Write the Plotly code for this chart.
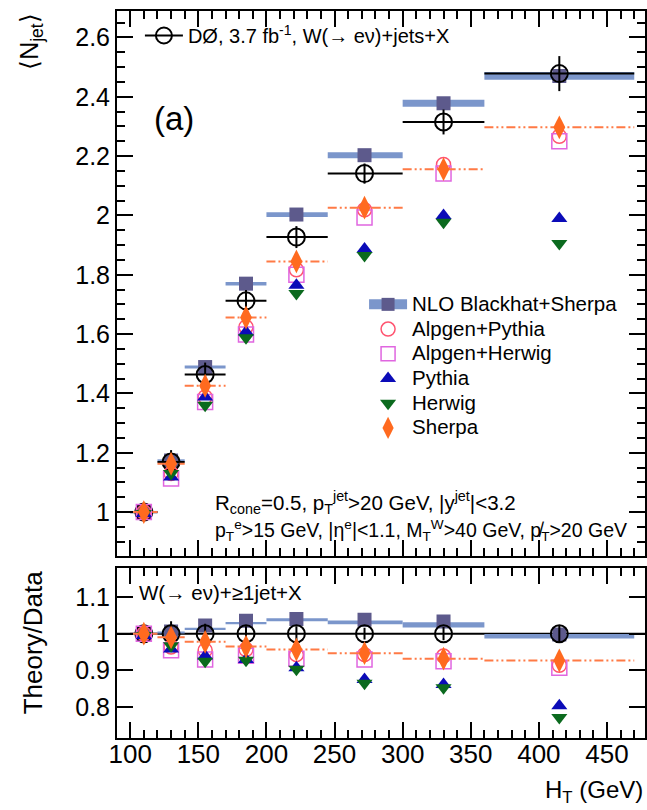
import plotly.graph_objects as go

# ---------------- data ----------------
ht = [110, 130, 155, 185, 222, 272, 330, 415]
bin_lo = [100, 120, 140, 170, 200, 245, 300, 360]
bin_hi = [120, 140, 170, 200, 245, 300, 360, 470]

data = [1.0, 1.169, 1.464, 1.712, 1.927, 2.141, 2.315, 2.478]
data_err = [0.01, 0.04, 0.04, 0.037, 0.037, 0.034, 0.042, 0.059]
nlo = [1.0, 1.174, 1.489, 1.770, 2.003, 2.203, 2.378, 2.470]
nlo_half = [0.004, 0.004, 0.005, 0.006, 0.008, 0.010, 0.012, 0.013]
alp_pyt = [1.0, 1.130, 1.388, 1.624, 1.817, 2.019, 2.172, 2.267]
alp_her = [1.0, 1.113, 1.371, 1.599, 1.800, 1.993, 2.141, 2.250]
pythia = [0.995, 1.118, 1.388, 1.607, 1.765, 1.887, 2.000, 1.990]
herwig = [0.995, 1.130, 1.360, 1.588, 1.737, 1.865, 1.977, 1.905]
sherpa = [1.0, 1.163, 1.426, 1.656, 1.845, 2.026, 2.156, 2.297]

ratio_err = [0.005, 0.034, 0.027, 0.02, 0.02, 0.016, 0.018, 0.024]
data_r = [1.0, 1.0, 1.0, 1.0, 1.0, 1.0, 1.0, 1.0]
nlo_r = [1.0, 1.006, 1.022, 1.035, 1.040, 1.038, 1.033, 0.998]
nlo_r_band = [1.0, 1.004, 1.013, 1.029, 1.038, 1.031, 1.024, 0.993]
nlo_r_half = [0.002, 0.002, 0.003, 0.003, 0.004, 0.005, 0.007, 0.006]
alp_pyt_r = [1.0, 0.964, 0.955, 0.957, 0.943, 0.943, 0.939, 0.914]
alp_her_r = [1.0, 0.955, 0.930, 0.940, 0.932, 0.930, 0.925, 0.907]
pythia_r = [0.995, 0.958, 0.939, 0.930, 0.907, 0.875, 0.862, 0.804]
herwig_r = [0.995, 0.967, 0.925, 0.928, 0.903, 0.865, 0.853, 0.772]
sherpa_r = [1.0, 0.990, 0.978, 0.965, 0.957, 0.947, 0.932, 0.927]

x_ticks = [100, 150, 200, 250, 300, 350, 400, 450]

# ---------------- style ----------------
FONT = "Liberation Sans, Arial, Helvetica, sans-serif"
C_BAND = "#7b96cb"
C_NLO = "#5d5a8c"
C_SHERPA = "#ff6a1f"
C_SHERPA_L = "#ff7a45"
C_ALPP = "#ff5470"
C_ALPH = "#e066e0"
C_PYT = "#0b0bb8"
C_HER = "#0b6a1e"

W, H = 647, 810
ML, MR, MT, MB = 117, 0, 11, 72
PW, PH = W - ML - MR, H - MT - MB


def px(x):
    return (x - ML) / PW


def py(y):
    return (H - MB - y) / PH


centers = [(a + b) / 2 for a, b in zip(bin_lo, bin_hi)]
widths = [b - a for a, b in zip(bin_lo, bin_hi)]
xm = [c - a for c, a in zip(ht, bin_lo)]
xp = [b - c for c, b in zip(ht, bin_hi)]


def steps(vals):
    xs, ys = [], []
    for a, b, v in zip(bin_lo, bin_hi, vals):
        xs += [a, b, None]
        ys += [v, v, None]
    return xs, ys


fig = go.Figure()


def panel(xa, ya, d, derr, n, nband, nhalf, ap, ah, py_, hw, sh, top):
    # NLO band
    fig.add_trace(go.Bar(x=centers, y=[2 * h for h in nhalf],
                         base=[v - h for v, h in zip(nband, nhalf)],
                         width=widths, marker=dict(color=C_BAND, line=dict(width=0)),
                         showlegend=False, xaxis=xa, yaxis=ya, hoverinfo="skip"))
    # NLO squares
    fig.add_trace(go.Scatter(x=ht, y=n, mode="markers",
                             marker=dict(symbol="square", size=14, color=C_NLO),
                             showlegend=False, xaxis=xa, yaxis=ya))
    # data
    if top:
        ex = dict(type="data", symmetric=False, array=xp, arrayminus=xm,
                  thickness=2, width=0, color="black")
    else:
        ex = None
    fig.add_trace(go.Scatter(x=ht, y=d, mode="markers",
                             marker=dict(symbol="circle-open", size=17,
                                         color="black", line=dict(width=2, color="black")),
                             error_y=dict(type="data", array=derr, thickness=2, width=0, color="black"),
                             error_x=ex,
                             showlegend=False, xaxis=xa, yaxis=ya))
    fig.add_trace(go.Scatter(x=ht, y=ap, mode="markers",
                             marker=dict(symbol="circle-open", size=14, color=C_ALPP,
                                         line=dict(width=1.5, color=C_ALPP)),
                             showlegend=False, xaxis=xa, yaxis=ya))
    fig.add_trace(go.Scatter(x=ht, y=ah, mode="markers",
                             marker=dict(symbol="square-open", size=15, color=C_ALPH,
                                         line=dict(width=1.5, color=C_ALPH)),
                             showlegend=False, xaxis=xa, yaxis=ya))
    fig.add_trace(go.Scatter(x=ht, y=py_, mode="markers",
                             marker=dict(symbol="triangle-up", size=14, color=C_PYT),
                             showlegend=False, xaxis=xa, yaxis=ya))
    fig.add_trace(go.Scatter(x=ht, y=hw, mode="markers",
                             marker=dict(symbol="triangle-down", size=14, color=C_HER),
                             showlegend=False, xaxis=xa, yaxis=ya))
    sx, sy = steps(sh)
    fig.add_trace(go.Scatter(x=sx, y=sy, mode="lines",
                             line=dict(color=C_SHERPA_L, width=2, dash="9px,3px,2px,3px,2px,3px"),
                             showlegend=False, xaxis=xa, yaxis=ya, connectgaps=False))
    fig.add_trace(go.Scatter(x=ht, y=sh, mode="markers",
                             marker=dict(symbol="diamond-tall", size=17, color=C_SHERPA),
                             showlegend=False, xaxis=xa, yaxis=ya))


panel("x", "y", data, data_err, nlo, nlo, nlo_half, alp_pyt, alp_her, pythia, herwig, sherpa, True)
panel("x2", "y2", data_r, ratio_err, nlo_r, nlo_r_band, nlo_r_half,
      alp_pyt_r, alp_her_r, pythia_r, herwig_r, sherpa_r, False)


def big(s, size=20.5):
    return '<span style="font-size:%spx">%s</span>' % (size, s)


# legend entries (legend-only dummy traces)
leg = [
    ("NLO Blackhat+Sherpa", dict(mode="lines+markers", line=dict(color=C_BAND, width=16),
                                 marker=dict(symbol="square", size=13, color=C_NLO))),
    ("Alpgen+Pythia", dict(mode="markers", marker=dict(symbol="circle-open", size=14, color=C_ALPP,
                                                        line=dict(width=1.5, color=C_ALPP)))),
    ("Alpgen+Herwig", dict(mode="markers", marker=dict(symbol="square-open", size=14, color=C_ALPH,
                                                        line=dict(width=1.5, color=C_ALPH)))),
    ("Pythia", dict(mode="markers", marker=dict(symbol="triangle-up", size=14, color=C_PYT))),
    ("Herwig", dict(mode="markers", marker=dict(symbol="triangle-down", size=14, color=C_HER))),
    ("Sherpa", dict(mode="markers", marker=dict(symbol="diamond-tall", size=16, color=C_SHERPA))),
]
for i, (name, kw) in enumerate(leg):
    fig.add_trace(go.Scatter(x=[None], y=[None], name=big(name), legendrank=i + 1,
                             showlegend=True, xaxis="x", yaxis="y", legend="legend", **kw))

fig.add_trace(go.Scatter(x=[None], y=[None], name="DØ, 3.7 fb<sup>-1</sup>, W(→ eν)+jets+X",
                         mode="lines+markers", line=dict(color="black", width=2),
                         marker=dict(symbol="circle-open", size=16, color="black",
                                     line=dict(width=2, color="black")),
                         showlegend=True, xaxis="x", yaxis="y", legend="legend2"))

# reference line at 1 in ratio panel
fig.add_shape(type="line", xref="x2 domain", yref="y2", x0=0, x1=1, y0=1, y1=1,
              line=dict(color="black", width=2), layer="below")

axis_common = dict(showline=True, linewidth=2, linecolor="black", mirror="allticks",
                   ticks="inside", tickcolor="black", tickwidth=1.5, showgrid=False,
                   zeroline=False)

xcommon = dict(axis_common, range=[90.3, 477.9], tickvals=x_ticks, ticklen=16,
               minor=dict(dtick=10, tick0=0, ticks="inside", ticklen=8, tickwidth=1.5,
                          tickcolor="black", showgrid=False))

fig.update_layout(
    width=W, height=H,
    margin=dict(l=ML, r=MR, t=MT, b=MB),
    paper_bgcolor="white", plot_bgcolor="white",
    font=dict(family=FONT, color="black"),
    barmode="overlay",
    xaxis=dict(xcommon, anchor="y", domain=[0, 1], showticklabels=False, matches="x2"),
    xaxis2=dict(xcommon, anchor="y2", domain=[0, 1], showticklabels=True,
                tickfont=dict(size=26, family=FONT), ticklabelstandoff=-8),
    yaxis=dict(axis_common, anchor="x", domain=[0.2503, 1], range=[0.852, 2.689],
               dtick=0.2, tick0=0, ticklen=16, tickfont=dict(size=25, family=FONT),
               minor=dict(dtick=0.05, tick0=0, ticks="inside", ticklen=8, tickwidth=1.5,
                          tickcolor="black", showgrid=False)),
    yaxis2=dict(axis_common, anchor="x2", domain=[0, 0.2344], range=[0.716, 1.18],
                tickvals=[0.8, 0.9, 1.0, 1.1], ticktext=["0.8", "0.9", "1", "1.1"],
                ticklen=16, tickfont=dict(size=25, family=FONT)),
    legend=dict(x=px(365), y=py(287), xanchor="left", yanchor="top",
                bgcolor="rgba(0,0,0,0)", font=dict(size=16.7, family=FONT),
                itemwidth=38, tracegroupgap=0, borderwidth=0),
    legend2=dict(x=px(140), y=py(16), xanchor="left", yanchor="top",
                 bgcolor="rgba(0,0,0,0)", font=dict(size=20, family=FONT),
                 itemwidth=38, borderwidth=0),
    showlegend=True,
)

ann = [
    dict(text="(a)", x=px(152), y=py(118), xanchor="left", yanchor="middle",
         font=dict(size=33)),
    dict(text="R<sub>cone</sub>=0.5, p<sub>T</sub><sup>jet</sup>>20 GeV, |y<sup>jet</sup>|<3.2",
         x=px(213), y=py(502), xanchor="left", yanchor="middle", font=dict(size=20.5)),
    dict(text="p<sub>T</sub><sup>e</sup>>15 GeV, |η<sup>e</sup>|<1.1, M<sub>T</sub><sup>W</sup>>40 GeV, p\u0338<sub>T</sub>>20 GeV",
         x=px(213), y=py(530), xanchor="left", yanchor="middle", font=dict(size=19.5)),
    dict(text="W(→ eν)+≥1jet+X", x=px(137), y=py(592), xanchor="left", yanchor="middle",
         font=dict(size=20.5)),
    dict(text="H<sub>T</sub> (GeV)", x=px(647), y=py(791), xanchor="right", yanchor="middle",
         font=dict(size=24)),
    dict(text="⟨N<sub>jet</sub>⟩", x=px(30), y=py(11), xanchor="center", yanchor="top",
         textangle=-90, font=dict(size=25)),
    dict(text="Theory/Data", x=px(33), y=py(642), xanchor="center", yanchor="middle",
         textangle=-90, font=dict(size=26)),
]
for a in ann:
    a.update(xref="paper", yref="paper", showarrow=False)
    a["font"] = dict(a["font"], family=FONT, color="black")
fig.update_layout(annotations=ann)

fig.write_html("out.html")
